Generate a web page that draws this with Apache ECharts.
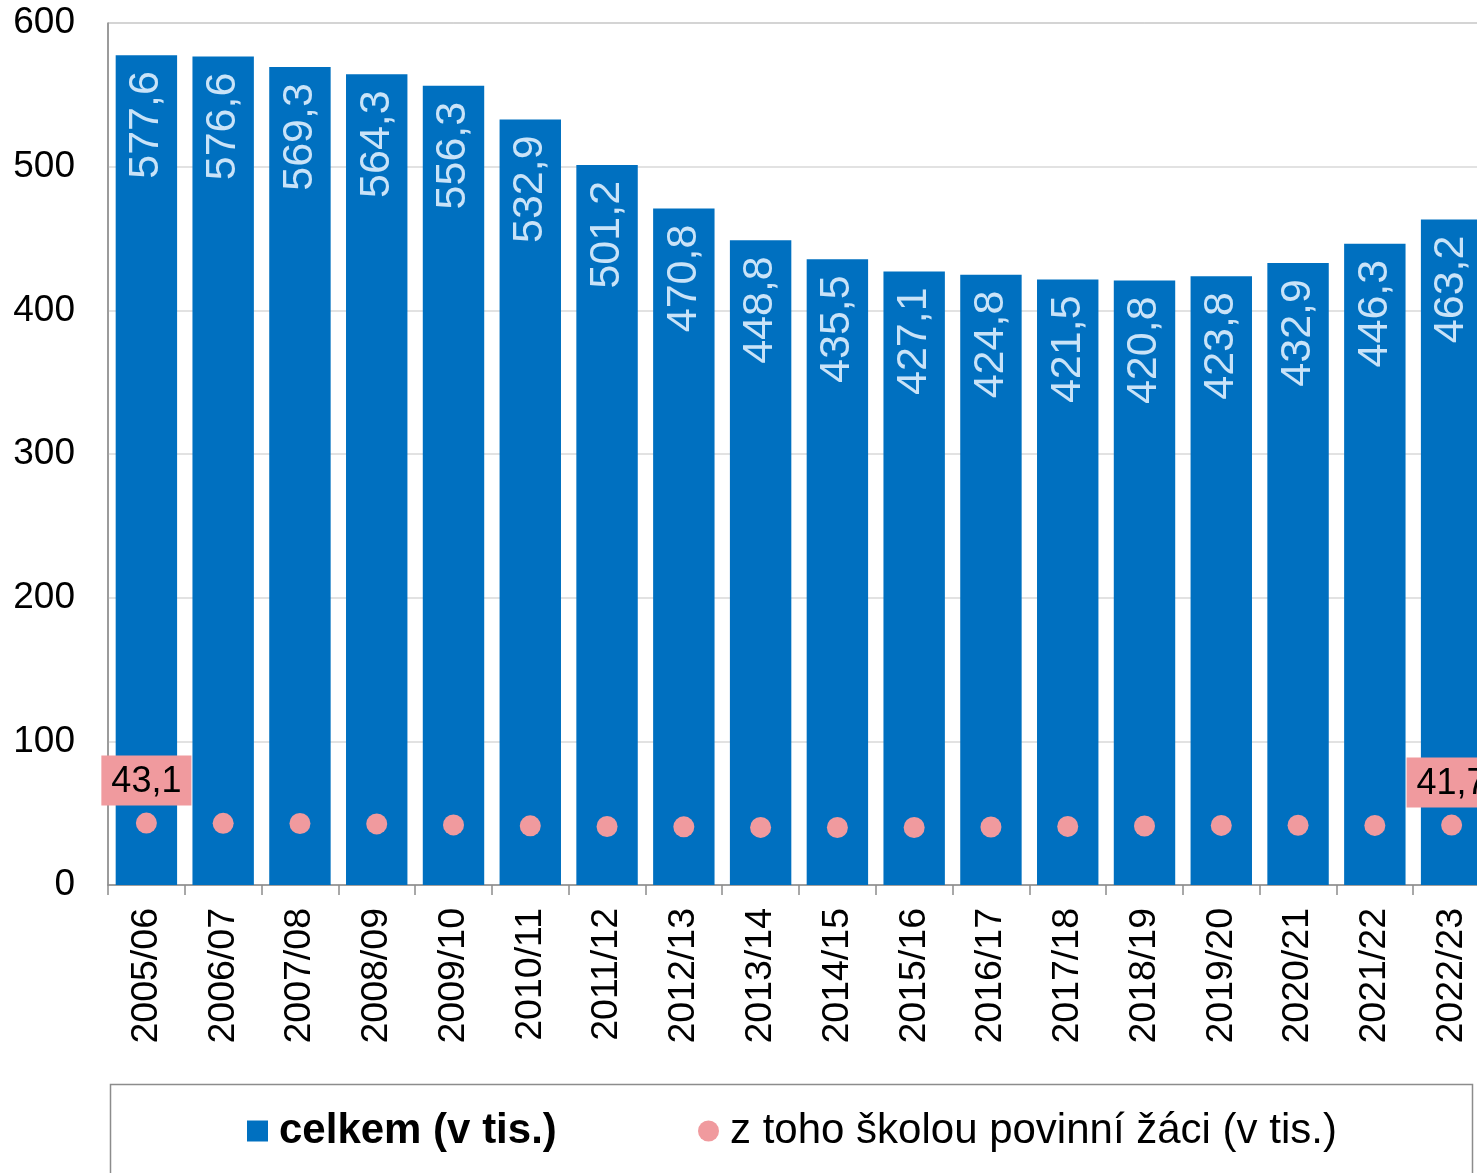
<!DOCTYPE html>
<html>
<head>
<meta charset="utf-8">
<script src="https://cdn.jsdelivr.net/npm/echarts@6/dist/echarts.min.js"></script>
<style>
html,body{margin:0;padding:0;overflow:hidden;background:#fff;}
#chart{width:1500px;height:1173px;}
</style>
</head>
<body>
<div id="chart"></div>
<script>
const categories = ['2005/06','2006/07','2007/08','2008/09','2009/10','2010/11','2011/12','2012/13','2013/14','2014/15','2015/16','2016/17','2017/18','2018/19','2019/20','2020/21','2021/22','2022/23'];
const totalValues = [577.6,576.6,569.3,564.3,556.3,532.9,501.2,470.8,448.8,435.5,427.1,424.8,421.5,420.8,423.8,432.9,446.3,463.2];
const compulsoryValues = [43.1,42.9,42.8,42.5,41.8,41.2,40.7,40.5,40.1,40.0,40.0,40.4,40.8,41.1,41.5,41.6,41.5,41.7];
const yTicks = {min:0, max:600, interval:100};
const seriesNames = ['celkem (v tis.)','z toho školou povinní žáci (v tis.)'];

const FONT = "'Liberation Sans', Arial, sans-serif";
const fmt = v => v.toFixed(1).replace('.', ',');

const scatterData = compulsoryValues.map((v,i) => {
  const item = {value: v};
  if (i === 0 || i === compulsoryValues.length - 1) {
    item.label = {show: true};
  }
  return item;
});

const chart = echarts.init(document.getElementById('chart'), null, {renderer:'canvas'});
chart.setOption({
  animation:false,
  backgroundColor:'#fff',
  textStyle:{fontFamily:FONT},
  grid:{left:108, right:10, top:23, bottom:288, show:true, borderColor:'#8c8c8c', borderWidth:1, backgroundColor:'transparent'},
  graphic:[{
    type:'rect', left:108, top:1082,
    shape:{width:1362, height:140},
    style:{fill:'none', stroke:'#8c8c8c', lineWidth:1.5}
  }],
  legend:[{
    data:[{name:seriesNames[0], icon:'rect'}],
    left:247, top:1110,
    itemWidth:21, itemHeight:21, padding:0,
    textStyle:{fontFamily:FONT, fontSize:42, fontWeight:'bold', color:'#000', padding:[0,0,0,6]}
  },{
    data:[{name:seriesNames[1], icon:'circle'}],
    left:698, top:1110,
    itemWidth:21, itemHeight:21, padding:0,
    textStyle:{fontFamily:FONT, fontSize:42, color:'#000', padding:[0,0,0,6]}
  }],
  xAxis:{
    type:'category', data:categories,
    axisLine:{show:true, lineStyle:{color:'#8c8c8c', width:1.5}},
    axisTick:{show:true, alignWithLabel:false, length:10, lineStyle:{color:'#8c8c8c', width:1.5}},
    axisLabel:{rotate:90, fontSize:37.5, color:'#000', margin:23, fontFamily:FONT, interval:0},
    splitLine:{show:false}
  },
  yAxis:{
    type:'value', min:yTicks.min, max:yTicks.max, interval:yTicks.interval,
    axisLine:{show:true, lineStyle:{color:'#8c8c8c', width:1.5}},
    axisTick:{show:false},
    axisLabel:{fontSize:37, color:'#000', margin:33, fontFamily:FONT, padding:[4,0,0,0]},
    splitLine:{show:true, lineStyle:{color:'#d9d9d9', width:1.5}}
  },
  series:[{
    name:seriesNames[0], type:'bar', data:totalValues,
    barCategoryGap:'20%',
    itemStyle:{color:'#0070C0'},
    label:{
      show:true, position:'insideTop', rotate:90, align:'right', verticalAlign:'middle',
      distance:16, fontSize:43, color:'#C9E3F8', fontFamily:FONT,
      formatter:p => fmt(p.value)
    },
    z:2
  },{
    name:seriesNames[1], type:'scatter', data:scatterData,
    symbol:'circle', symbolSize:21,
    itemStyle:{color:'#F09A9E', opacity:1},
    label:{
      show:false, position:'top', distance:7,
      fontSize:36, color:'#000', fontFamily:FONT,
      backgroundColor:'#F09A9E', padding:[8,10,6,10],
      formatter:p => fmt(p.value)
    },
    z:3
  }]
});
</script>
</body>
</html>
